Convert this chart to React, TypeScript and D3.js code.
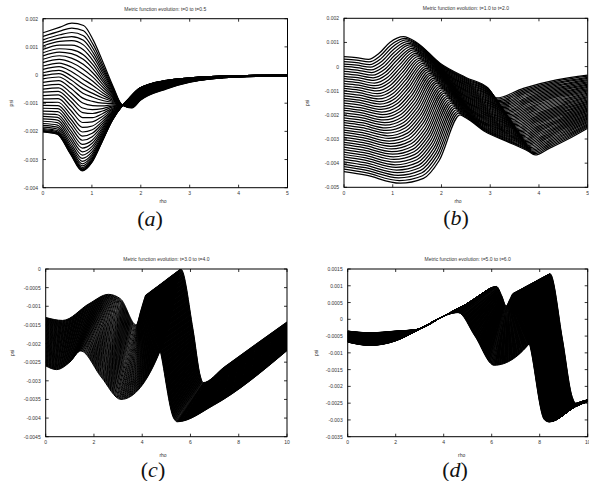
import React from "react";
import * as d3 from "d3";

type Pt = [number, number];

// ---------------- panel (a): t=0 to t=0.5 ----------------
const aTitle = "Metric function evolution: t=0 to t=0.5";
const aXTicks = [0, 1, 2, 3, 4, 5];
const aYTicks = [0.002, 0.001, 0, -0.001, -0.002, -0.003, -0.004];
// uppermost curve at rho=0
const aFirstCurve: Pt[] = [
  [0, 0.0015], [0.35, 0.0017], [0.59, 0.00184], [0.83, 0.00176], [1.03, 0.00123],
  [1.24, 0.0004], [1.44, -0.00043], [1.61, -0.00105], [1.82, -0.00117], [1.99, -0.0009],
  [2.53, -0.00049], [3.01, -0.00025], [4, -0.00007], [5, -0.00003],
];
// lowest curve at rho=0
const aLastCurve: Pt[] = [
  [0, -0.00202], [0.29, -0.0021], [0.56, -0.0028], [0.8, -0.0034], [1.0, -0.0031],
  [1.2, -0.0024], [1.42, -0.0016], [1.61, -0.00111], [1.72, -0.0009], [1.99, -0.00045],
  [2.53, -0.00019], [3.01, -0.0001], [4, -0.00002], [5, 0],
];
// value of every drawn curve at rho=0
const aStartValues = [
  0.0015, 0.00137, 0.00125, 0.00114, 0.00103, 0.00091, 0.00079, 0.00068, 0.00056, 0.00044,
  0.00032, 0.0002, 0.00008, -0.00003, -0.00014, -0.00026, -0.00038, -0.0005, -0.00061,
  -0.00073, -0.00085, -0.00097, -0.00108, -0.00118, -0.00128, -0.00138, -0.00147, -0.00156,
  -0.00164, -0.00172, -0.00179, -0.00185, -0.0019, -0.00194, -0.00197, -0.00199, -0.00201,
  -0.00202,
];

// ---------------- panel (b): t=1.0 to t=2.0 ----------------
const bTitle = "Metric function evolution: t=1.0 to t=2.0";
const bXTicks = [0, 1, 2, 3, 4, 5];
const bYTicks = [0.002, 0.001, 0, -0.001, -0.002, -0.003, -0.004, -0.005];
const bFirstCurve: Pt[] = [
  [0, 0.00041], [0.25, 0.00037], [0.5, 0.0003], [0.72, 0.00055], [0.94, 0.001],
  [1.22, 0.00124], [1.49, 0.001], [1.97, 0.00014], [2.5, -0.00045], [2.96, -0.0009],
  [3.13, -0.0013], [3.68, -0.0009], [4.36, -0.00055], [5, -0.00035],
];
const bLastCurve: Pt[] = [
  [0, -0.00435], [0.45, -0.0045], [1.15, -0.00483], [1.63, -0.00463], [1.95, -0.0039],
  [2.38, -0.002], [2.5, -0.00212], [2.9, -0.0027], [3.34, -0.0031], [3.78, -0.0035],
  [3.92, -0.00366], [4.2, -0.0034], [4.6, -0.003], [5, -0.00255],
];
const bCurveCount = 48;

// ---------------- panel (c): t=3.0 to t=4.0 ----------------
const cTitle = "Metric function evolution: t=3.0 to t=4.0";
const cXTicks = [0, 2, 4, 6, 8, 10];
const cYTicks = [0, -0.0005, -0.001, -0.0015, -0.002, -0.0025, -0.003, -0.0035, -0.004, -0.0045];
const cFirstCurve: Pt[] = [
  [0, -0.0013], [0.7, -0.00138], [1.8, -0.00093], [2.6, -0.00068], [3.1, -0.0008],
  [3.75, -0.0015], [3.95, -0.0011], [4.1, -0.00078], [4.15, -0.0007], [4.75, -0.0022],
  [5.3, -0.004], [5.45, -0.0041], [6.95, -0.00366], [10, -0.00219],
];
const cLastCurve: Pt[] = [
  [0, -0.0026], [0.45, -0.0027], [1.0, -0.0025], [1.45, -0.0022], [2.3, -0.0029],
  [3.12, -0.0035], [4.74, -0.0022], [5.25, -0.0011], [5.6, 0], [6.1, -0.0016],
  [6.42, -0.0029], [6.52, -0.00305], [7.4, -0.00263], [10, -0.00142],
];
const cCurveCount = 110;

// ---------------- panel (d): t=5.0 to t=6.0 ----------------
const dTitle = "Metric function evolution: t=5.0 to t=6.0";
const dXTicks = [0, 2, 4, 6, 8, 10];
const dYTicks = [0.0015, 0.001, 0.0005, 0, -0.0005, -0.001, -0.0015, -0.002, -0.0025, -0.003, -0.0035];
const dFirstCurve: Pt[] = [
  [0, -0.00035], [0.93, -0.0004], [2.0, -0.00035], [2.9, -0.0003], [4.0, 0.0001],
  [5.2, 0.00055], [6.2, 0.00098], [6.42, 0.0007], [6.6, 0.0004], [6.76, 0.0006],
  [6.9, 0.00077], [7.6, -0.0008], [8.2, -0.003], [8.4, -0.00306], [9.5, -0.0026],
  [10, -0.00245],
];
const dLastCurve: Pt[] = [
  [0, -0.00068], [0.93, -0.00078], [1.97, -0.00065], [2.9, -0.00033], [3.6, -0.00005],
  [4.2, 0.00015], [4.6, 0.0002], [5.3, -0.0005], [6.1, -0.00137], [7.7, -0.0006],
  [8.43, 0.00136], [8.95, -0.0006], [9.35, -0.0023], [9.5, -0.0025], [9.75, -0.00245],
  [10, -0.0024],
];
const dCurveCount = 160;

// ---------------------------------------------------------------------------

function morph(first: Pt[], last: Pt[], s: number): Pt[] {
  return first.map((p, i) => [
    d3.interpolateNumber(p[0], last[i][0])(s),
    d3.interpolateNumber(p[1], last[i][1])(s),
  ]);
}

const fmt = (v: number) => String(+v.toFixed(6));

type Box = { l: number; r: number; t: number; b: number };

interface PanelProps {
  id: string;
  title: string;
  xTicks: number[];
  yTicks: number[];
  first: Pt[];
  last: Pt[];
  fractions: number[];
  box: Box;
  psiX: number;
  rhoPos: [number, number];
  letter: string;
  labelPos: [number, number];
  strokeWidth: number;
}

const SANS = "'Liberation Sans', Arial, Helvetica, sans-serif";
const SERIF = "'Liberation Serif', 'DejaVu Serif', serif";
const TXT = "#333";

function Panel(p: PanelProps) {
  const { box } = p;
  const x = d3.scaleLinear().domain(d3.extent(p.xTicks) as [number, number]).range([box.l, box.r]);
  const y = d3.scaleLinear().domain(d3.extent(p.yTicks) as [number, number]).range([box.b, box.t]);
  const line = d3
    .line<Pt>()
    .x((d) => x(d[0]))
    .y((d) => y(d[1]))
    .curve(d3.curveMonotoneX);
  const tl = 3;
  const cx = (box.l + box.r) / 2;
  return (
    <g>
      <defs>
        <clipPath id={`clip-${p.id}`}>
          <rect x={box.l} y={box.t} width={box.r - box.l} height={box.b - box.t} />
        </clipPath>
      </defs>
      <g clipPath={`url(#clip-${p.id})`} fill="none" stroke="#000" strokeWidth={p.strokeWidth}>
        {p.fractions.map((s, i) => (
          <path key={i} d={line(morph(p.first, p.last, s)) || ""} />
        ))}
      </g>
      <rect x={box.l} y={box.t} width={box.r - box.l} height={box.b - box.t} fill="none" stroke="#000" strokeWidth={1} />
      {p.xTicks.map((v) => (
        <g key={`x${v}`}>
          <line x1={x(v)} x2={x(v)} y1={box.b} y2={box.b - tl} stroke="#000" strokeWidth={0.8} />
          <line x1={x(v)} x2={x(v)} y1={box.t} y2={box.t + tl} stroke="#000" strokeWidth={0.8} />
          <text x={x(v)} y={box.b + 5.5} fontSize={5} fontFamily={SANS} fill={TXT} textAnchor="middle" dominantBaseline="central">
            {fmt(v)}
          </text>
        </g>
      ))}
      {p.yTicks.map((v) => (
        <g key={`y${v}`}>
          <line x1={box.l} x2={box.l + tl} y1={y(v)} y2={y(v)} stroke="#000" strokeWidth={0.8} />
          <line x1={box.r} x2={box.r - tl} y1={y(v)} y2={y(v)} stroke="#000" strokeWidth={0.8} />
          <text x={box.l - 5} y={y(v)} fontSize={5} fontFamily={SANS} fill={TXT} textAnchor="end" dominantBaseline="central">
            {fmt(v)}
          </text>
        </g>
      ))}
      <text x={cx} y={box.t - 10} fontSize={5} fontFamily={SANS} fill={TXT} textAnchor="middle" dominantBaseline="central">
        {p.title}
      </text>
      <text
        x={p.psiX}
        y={(box.t + box.b) / 2}
        fontSize={5}
        fontFamily={SANS}
        fill={TXT}
        textAnchor="middle"
        dominantBaseline="central"
        transform={`rotate(-90 ${p.psiX} ${(box.t + box.b) / 2})`}
      >
        psi
      </text>
      <text x={p.rhoPos[0]} y={p.rhoPos[1]} fontSize={5} fontFamily={SANS} fill={TXT} textAnchor="middle" dominantBaseline="central">
        rho
      </text>
      <text
        x={p.labelPos[0]}
        y={p.labelPos[1]}
        fontSize={22}
        fontFamily={SERIF}
        fill="#111"
        textAnchor="middle"
        dominantBaseline="central"
      >
        (<tspan fontStyle="italic">{p.letter}</tspan>)
      </text>
    </g>
  );
}

export default function App() {
  const aScale = d3.scaleLinear().domain([aFirstCurve[0][1], aLastCurve[0][1]]).range([0, 1]);
  const aFractions = aStartValues.map((v) => aScale(v));
  const uniform = (n: number) => d3.range(n).map((i) => i / (n - 1));
  return (
    <svg
      width={589}
      height={481}
      viewBox="0 0 589 481"
      style={{ position: "absolute", left: 0, top: 0, background: "#fff" }}
    >
      <rect x={0} y={0} width={589} height={481} fill="#fff" />
      <Panel
        id="a"
        title={aTitle}
        xTicks={aXTicks}
        yTicks={aYTicks}
        first={aFirstCurve}
        last={aLastCurve}
        fractions={aFractions}
        box={{ l: 43, r: 287.5, t: 18.7, b: 187.7 }}
        psiX={11.5}
        rhoPos={[163, 201]}
        letter="a"
        labelPos={[150, 218]}
        strokeWidth={1.2}
      />
      <Panel
        id="b"
        title={bTitle}
        xTicks={bXTicks}
        yTicks={bYTicks}
        first={bFirstCurve}
        last={bLastCurve}
        fractions={uniform(bCurveCount)}
        box={{ l: 344, r: 587.7, t: 18.3, b: 187.3 }}
        psiX={307.5}
        rhoPos={[458, 201]}
        letter="b"
        labelPos={[456, 217]}
        strokeWidth={1.25}
      />
      <Panel
        id="c"
        title={cTitle}
        xTicks={cXTicks}
        yTicks={cYTicks}
        first={cFirstCurve}
        last={cLastCurve}
        fractions={uniform(cCurveCount)}
        box={{ l: 45.7, r: 287, t: 269, b: 436.7 }}
        psiX={12.3}
        rhoPos={[163, 455]}
        letter="c"
        labelPos={[153, 469]}
        strokeWidth={1.0}
      />
      <Panel
        id="d"
        title={dTitle}
        xTicks={dXTicks}
        yTicks={dYTicks}
        first={dFirstCurve}
        last={dLastCurve}
        fractions={uniform(dCurveCount)}
        box={{ l: 347.7, r: 587.7, t: 269, b: 436.7 }}
        psiX={315.7}
        rhoPos={[461.7, 455]}
        letter="d"
        labelPos={[455, 469]}
        strokeWidth={1.0}
      />
    </svg>
  );
}
